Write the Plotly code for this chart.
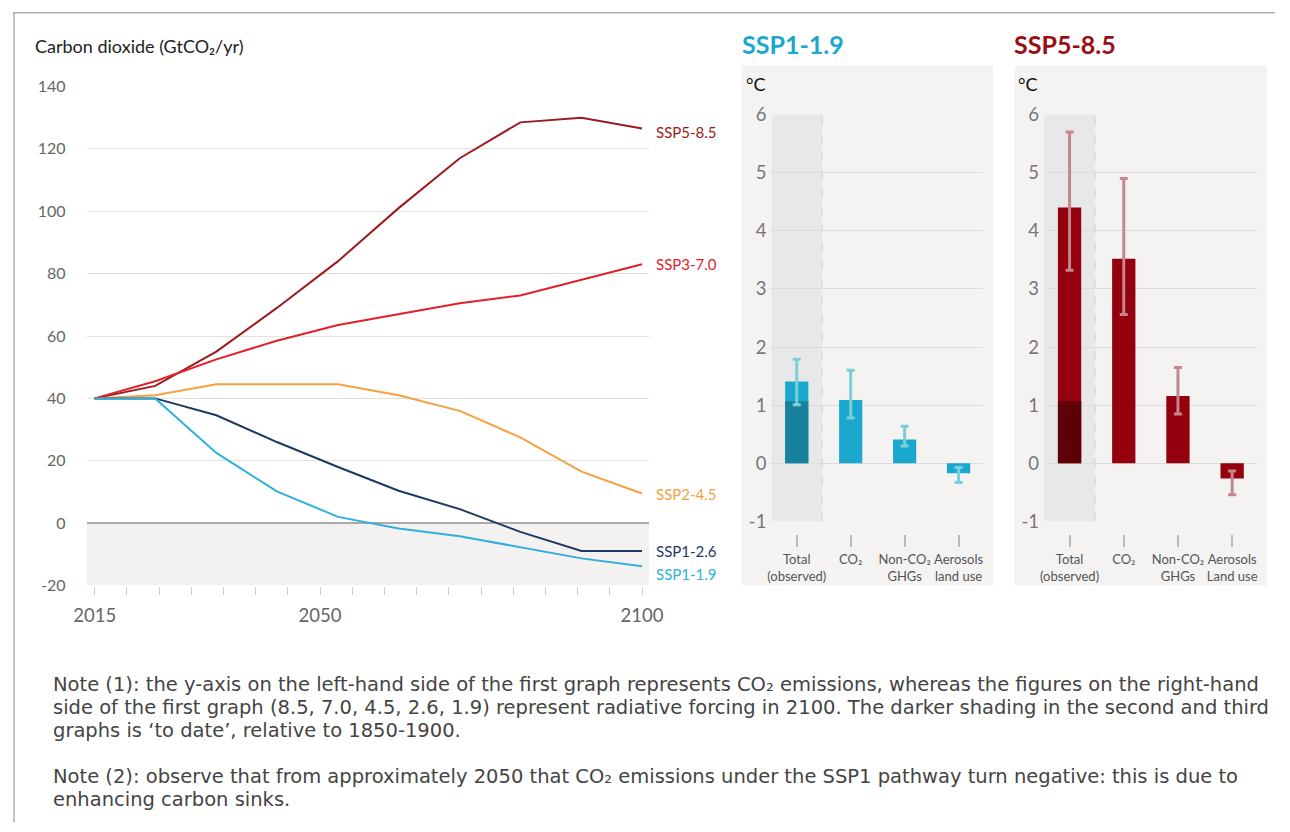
import plotly.graph_objects as go

# ---------------- data ----------------
years = [2015, 2024.4, 2033.9, 2043.3, 2052.8, 2062.2, 2071.7, 2081.1, 2090.6, 2100]
ssp585 = [40, 44, 55, 69, 84, 101, 117, 128.5, 130, 126.5]
ssp370 = [40, 45.5, 52.5, 58.5, 63.5, 67, 70.5, 73, 78, 83]
ssp245 = [40, 41, 44.5, 44.5, 44.5, 41, 36, 27.5, 16.5, 9.5]
ssp126 = [40, 40, 34.6, 26, 18, 10.4, 4.5, -2.8, -8.9, -8.9]
ssp119 = [40, 40, 22.5, 10.2, 2, -1.7, -4.2, -7.8, -11.3, -13.8]

scenario_names = ["SSP5-8.5", "SSP3-7.0", "SSP2-4.5", "SSP1-2.6", "SSP1-1.9"]
scenario_series = [ssp585, ssp370, ssp245, ssp126, ssp119]
scenario_colors = ["#9b1c20", "#e3202a", "#f7a03f", "#1c3a63", "#2fb0dc"]
label_yshift = [-3, 0, 0, 0, -8]

y_tick_vals = [140, 120, 100, 80, 60, 40, 20, 0, -20]
y_tick_text = ["140", "120", "100", "80", "60", "40", "20", "0", "-20"]
x_tick_vals = [2015, 2050, 2100]
x_tick_text = ["2015", "2050", "2100"]
x_minor_vals = list(range(2015, 2101, 5))

cats_119 = ["Total<br>(observed)", "CO\u2082", "Non-CO\u2082<br>GHGs", "Aerosols<br>land use"]
cats_585 = ["Total<br>(observed)", "CO\u2082", "Non-CO\u2082<br>GHGs", "Aerosols<br>Land use"]
warm_119 = [1.41, 1.09, 0.41, -0.17]
low_119 = [1.01, 0.78, 0.30, -0.33]
high_119 = [1.79, 1.60, 0.64, -0.07]
warm_585 = [4.40, 3.52, 1.16, -0.26]
low_585 = [3.32, 2.56, 0.85, -0.54]
high_585 = [5.70, 4.90, 1.65, -0.13]
observed_to_date = 1.07

bar_y_ticks = [-1, 0, 1, 2, 3, 4, 5, 6]
bar_y_text = ["-1", "0", "1", "2", "3", "4", "5", "6"]

notes = [
    "Note (1): the y-axis on the left-hand side of the first graph represents CO\u2082 emissions, whereas the figures on the right-hand",
    "side of the first graph (8.5, 7.0, 4.5, 2.6, 1.9) represent radiative forcing in 2100. The darker shading in the second and third",
    "graphs is \u2018to date\u2019, relative to 1850-1900.",
    "Note (2): observe that from approximately 2050 that CO\u2082 emissions under the SSP1 pathway turn negative: this is due to",
    "enhancing carbon sinks.",
]

# ---------------- layout helpers ----------------
W, H = 1290, 832
AX, AY = 11.0, 11.5
SX, SY = 1268 / 1290, 810 / 832
def fx(px):
    return ((px - AX) / SX) / W
def fy(py):
    return 1 - ((py - AY) / SY) / H

FONT = "Lato"
fig = go.Figure()

# left line chart
for name, s, c in zip(scenario_names, scenario_series, scenario_colors):
    fig.add_trace(go.Scatter(x=years, y=s, mode="lines", name=name,
                             line=dict(color=c, width=2), xaxis="x", yaxis="y",
                             showlegend=False))

# bar panels
def add_panel(cats, warm, low, high, xa, ya, col, dark, errc):
    fig.add_trace(go.Bar(x=cats, y=warm, width=0.43, marker=dict(color=col, line=dict(width=0)),
                         xaxis=xa, yaxis=ya, showlegend=False))
    fig.add_trace(go.Bar(x=[cats[0]], y=[observed_to_date], width=0.43,
                         marker=dict(color=dark, line=dict(width=0)),
                         xaxis=xa, yaxis=ya, showlegend=False))
    fig.add_trace(go.Scatter(x=cats, y=warm, mode="markers", marker=dict(size=1, opacity=0),
                             error_y=dict(type="data", symmetric=False,
                                          array=[h - v for h, v in zip(high, warm)],
                                          arrayminus=[v - l for v, l in zip(warm, low)],
                                          color=errc, thickness=3, width=4),
                             xaxis=xa, yaxis=ya, showlegend=False))

add_panel(cats_119, warm_119, low_119, high_119, "x2", "y2", "#1ba8cf", "#16809d", "#7ccfd9")
add_panel(cats_585, warm_585, low_585, high_585, "x3", "y3", "#95000f", "#5e0007", "#c3878d")

shapes = []
annotations = []

# border lines (top and left edges of the frame)
shapes.append(dict(type="line", xref="paper", yref="paper", x0=0.0, x1=1.0, y0=0.999, y1=0.999,
                   line=dict(color="#b0b0b0", width=1.5)))
shapes.append(dict(type="line", xref="paper", yref="paper", x0=0.0008, x1=0.0008, y0=1.0, y1=0.0,
                   line=dict(color="#b0b0b0", width=1.5)))

# negative shading on left chart
shapes.append(dict(type="rect", xref="x domain", yref="y", x0=0, x1=1, y0=-20, y1=0,
                   fillcolor="#f3f2f1", line=dict(width=0), layer="below"))

# panel backgrounds + observed column
for (l, r, xa, ya) in [(743, 996, "x2", "y2"), (1017, 1271, "x3", "y3")]:
    shapes.append(dict(type="rect", xref="paper", yref="paper", x0=fx(l), x1=fx(r), y0=fy(585), y1=fy(65),
                       fillcolor="#f4f3f2", line=dict(width=0), layer="below"))
    shapes.append(dict(type="rect", xref=xa, yref=ya, x0=-0.47, x1=0.47, y0=-1, y1=6,
                       fillcolor="#e8e8e8", line=dict(width=0), layer="below"))
    shapes.append(dict(type="line", xref=xa, yref=ya, x0=0.47, x1=0.47, y0=-1, y1=6,
                       line=dict(color="#cfcfcf", width=1, dash="dash"), layer="below"))

# line labels
for name, s, c, ys in zip(scenario_names, scenario_series, scenario_colors, label_yshift):
    annotations.append(dict(x=years[-1], y=s[-1], xref="x", yref="y", text=name, showarrow=False,
                            xanchor="left", yanchor="middle", xshift=12, yshift=ys,
                            font=dict(family=FONT, size=15, color=c)))

annotations.append(dict(x=fx(31), y=fy(45), xref="paper", yref="paper",
                        text="Carbon dioxide (GtCO\u2082/yr)", showarrow=False,
                        xanchor="left", yanchor="middle", font=dict(family=FONT, size=18, color="#222")))

# panel titles and units
for (px, txt, col) in [(741, "SSP1-1.9", "#1ba8cf"), (1015, "SSP5-8.5", "#9b0d14")]:
    annotations.append(dict(x=fx(px), y=fy(44), xref="paper", yref="paper", text="<b>" + txt + "</b>",
                            showarrow=False, xanchor="left", yanchor="middle",
                            font=dict(family=FONT, size=25, color=col)))
for px in [745, 1019]:
    annotations.append(dict(x=fx(px), y=fy(84), xref="paper", yref="paper", text="\u00b0C",
                            showarrow=False, xanchor="left", yanchor="middle",
                            font=dict(family=FONT, size=18, color="#111")))

# notes
note_y = [684, 707, 730, 776, 799]
for t, yy in zip(notes, note_y):
    annotations.append(dict(x=fx(49), y=fy(yy), xref="paper", yref="paper", text=t, showarrow=False,
                            xanchor="left", yanchor="middle",
                            font=dict(family="DejaVu Sans", size=19.5, color="#444")))

grid = "#e2e2e2"
tick_font = dict(family=FONT, size=16, color="#666")
xtick_font = dict(family=FONT, size=18.5, color="#666")
bar_tick_font = dict(family=FONT, size=18.5, color="#777")
cat_font = dict(family=FONT, size=13, color="#555")

fig.update_layout(
    width=W, height=H, autosize=False,
    margin=dict(l=0, r=0, t=0, b=0),
    paper_bgcolor="white", plot_bgcolor="rgba(0,0,0,0)",
    barmode="overlay", showlegend=False,
    shapes=shapes, annotations=annotations,
    xaxis=dict(domain=[fx(85), fx(650)], range=[2013.76, 2101.08], tickmode="array",
               tickvals=x_tick_vals, ticktext=x_tick_text, ticks="outside", ticklen=8,
               tickcolor="#cccccc", tickwidth=1,
               minor=dict(tickmode="array", tickvals=x_minor_vals, ticks="outside", ticklen=8,
                          tickcolor="#cccccc", tickwidth=1, showgrid=False),
               showgrid=False, zeroline=False, showline=False,
               tickfont=xtick_font, ticklabelstandoff=5, anchor="y"),
    yaxis=dict(domain=[fy(585), fy(86)], range=[-20, 140], tickmode="array",
               tickvals=y_tick_vals, ticktext=y_tick_text, showgrid=True, gridcolor=grid,
               gridwidth=1, zeroline=True, zerolinecolor="#aaaaaa", zerolinewidth=1.5,
               showline=False, ticks="", tickfont=tick_font, ticklabelstandoff=20, anchor="x"),
    xaxis2=dict(domain=[fx(773), fx(986)], range=[-0.47, 3.46], type="category",
                anchor="free", position=fy(533), ticks="outside", ticklen=12,
                tickcolor="#bbbbbb", tickwidth=1.5, showgrid=False, zeroline=False,
                showline=False, tickfont=cat_font, tickangle=0, ticklabelstandoff=2),
    yaxis2=dict(domain=[fy(521), fy(114)], range=[-1, 6], tickmode="array",
                tickvals=bar_y_ticks, ticktext=bar_y_text, showgrid=True, gridcolor="#dcdcdc",
                zeroline=False, showline=False, ticks="", tickfont=bar_tick_font,
                ticklabelstandoff=4, anchor="x2"),
    xaxis3=dict(domain=[fx(1047), fx(1261)], range=[-0.47, 3.46], type="category",
                anchor="free", position=fy(533), ticks="outside", ticklen=12,
                tickcolor="#bbbbbb", tickwidth=1.5, showgrid=False, zeroline=False,
                showline=False, tickfont=cat_font, tickangle=0, ticklabelstandoff=2),
    yaxis3=dict(domain=[fy(521), fy(114)], range=[-1, 6], tickmode="array",
                tickvals=bar_y_ticks, ticktext=bar_y_text, showgrid=True, gridcolor="#dcdcdc",
                zeroline=False, showline=False, ticks="", tickfont=bar_tick_font,
                ticklabelstandoff=4, anchor="x3"),
)

fig.write_html("out.html", config={"displayModeBar": False},
               post_script="document.body.style.margin='0';document.body.style.padding='0';"
                           "document.documentElement.style.overflow='hidden';")
